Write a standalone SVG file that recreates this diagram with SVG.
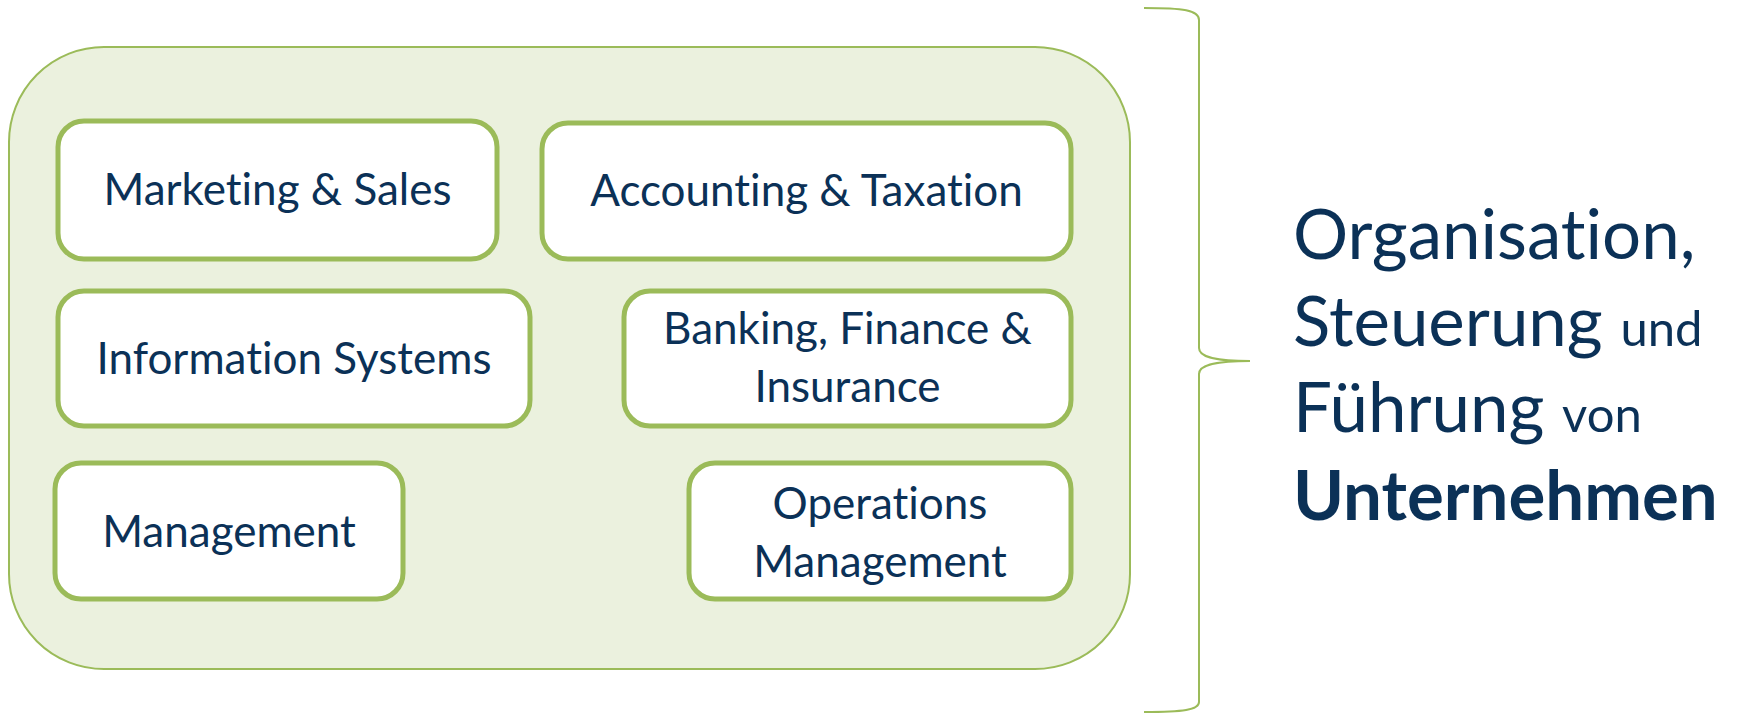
<svg xmlns="http://www.w3.org/2000/svg" width="1744" height="715" viewBox="0 0 1744 715">
<style>
text{font-variant-ligatures:none;font-feature-settings:"liga" 0,"dlig" 0}
.box{fill:#FFFFFF;stroke:#9BBB59;stroke-width:5}
.lbl{font-family:Lato,"Open Sans","Liberation Sans",sans-serif;font-size:44px;fill:#0B3157;text-anchor:middle}
.big{font-family:Lato,"Open Sans","Liberation Sans",sans-serif;font-size:69px;fill:#0B3157}
.sm{font-size:49px}
</style>
<rect width="1744" height="715" fill="#FFFFFF"/>
<g id="container">
<rect x="9" y="47" width="1121" height="622" rx="95" ry="95" fill="#EBF1DE" stroke="#9BBB59" stroke-width="2"/>
</g>
<g id="marketing">
<rect class="box" x="58" y="121" width="439" height="138" rx="26"/>
<text class="lbl" x="277.5" y="205">Marketing &amp; Sales</text>
</g>
<g id="accounting">
<rect class="box" x="542" y="123" width="529" height="136" rx="26"/>
<text class="lbl" x="806.5" y="206">Accounting &amp; Taxation</text>
</g>
<g id="information">
<rect class="box" x="58" y="291" width="472" height="135" rx="26"/>
<text class="lbl" x="294" y="374">Information Systems</text>
</g>
<g id="banking">
<rect class="box" x="624" y="291" width="447" height="135" rx="26"/>
<text class="lbl" x="847.5" y="344">Banking, Finance &amp;</text>
<text class="lbl" x="847.5" y="402">Insurance</text>
</g>
<g id="management">
<rect class="box" x="55" y="463" width="348" height="136" rx="26"/>
<text class="lbl" x="229" y="547">Management</text>
</g>
<g id="operations">
<rect class="box" x="689" y="463" width="382" height="136" rx="26"/>
<text class="lbl" x="880" y="519">Operations</text>
<text class="lbl" x="880" y="577">Management</text>
</g>
<g id="connectors">
<path d="M1144 8 C1183 8 1199 10 1199 20 L1199 348 C1199 356 1211 361 1250 361 C1211 361 1199 366 1199 374 L1199 702 C1199 710 1183 712 1144 712" fill="none" stroke="#9BBB59" stroke-width="2"/>
</g>
<g id="title">
<text class="big" x="1293" y="259">Organisation,</text>
<text class="big" x="1293" y="346">Steuerung <tspan class="sm">und</tspan></text>
<text class="big" x="1293" y="432">Führung <tspan class="sm">von</tspan></text>
<text class="big" x="1293" y="520" font-weight="bold" font-size="71">Unternehmen</text>
</g>
</svg>
